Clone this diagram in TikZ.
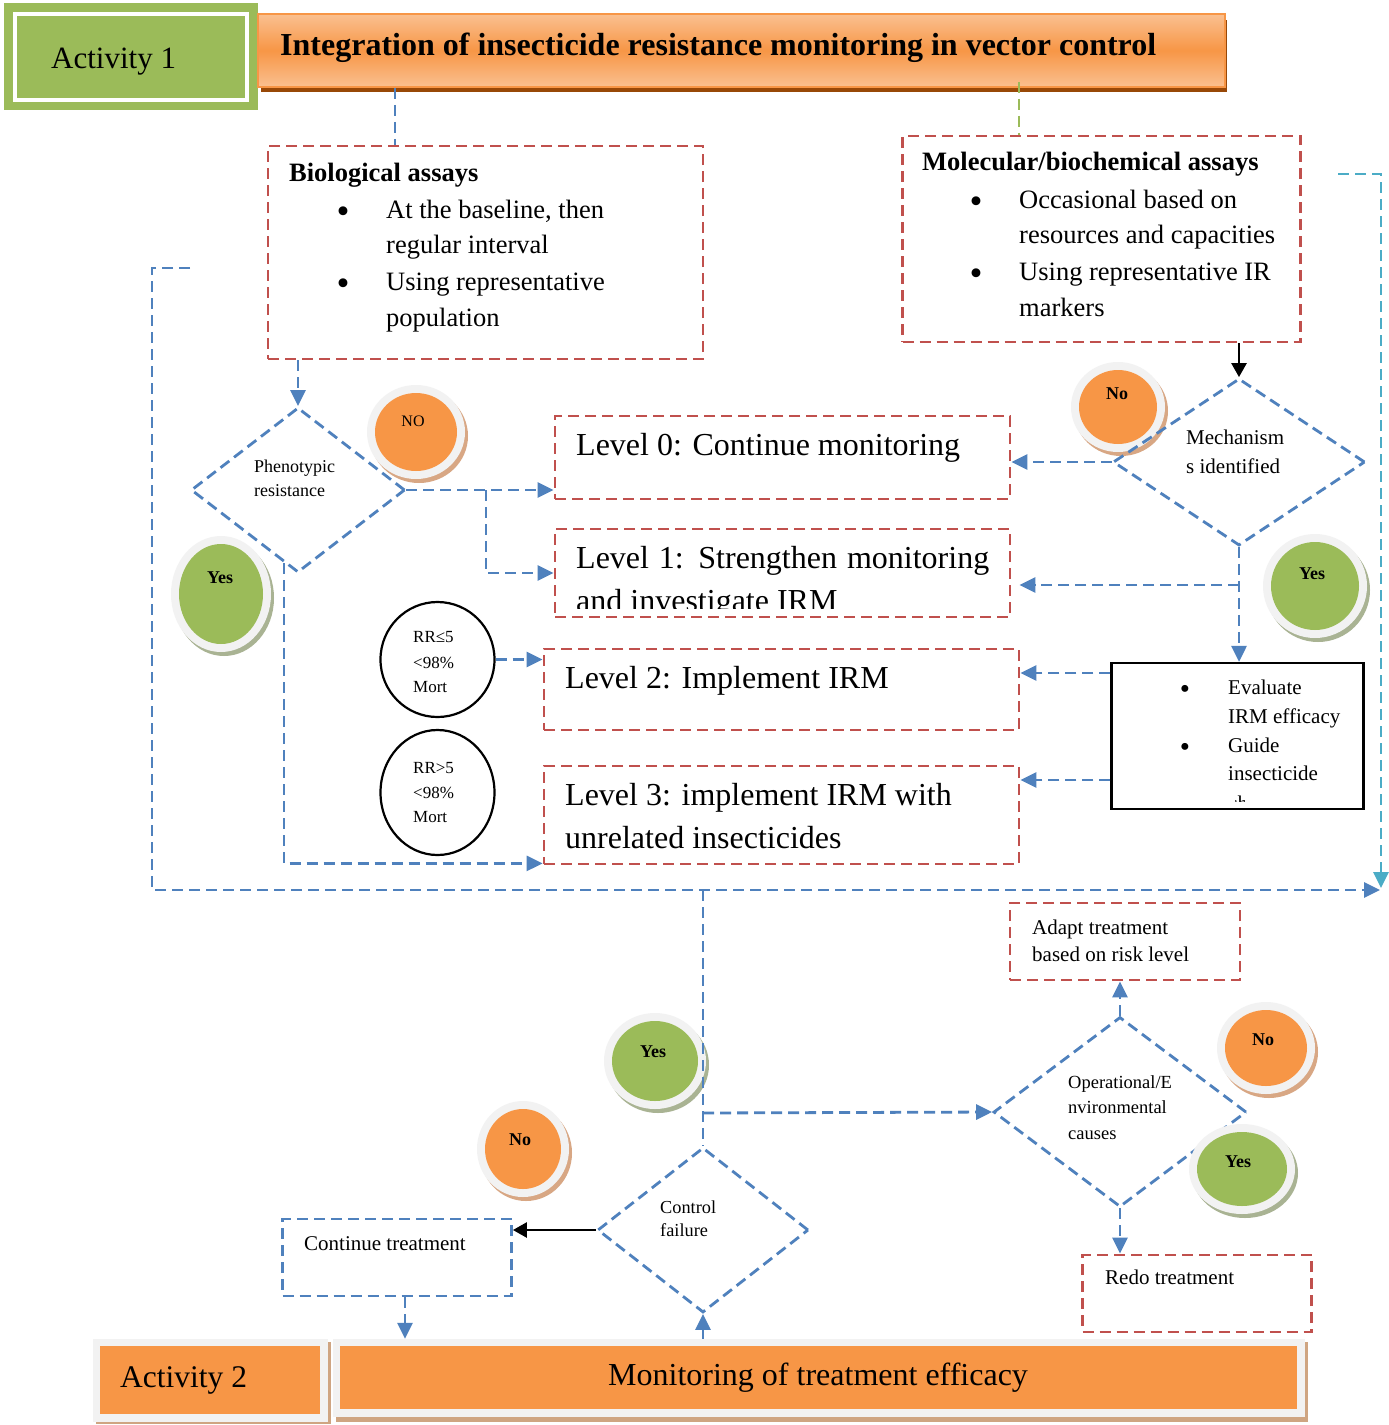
\documentclass[tikz,border=0pt]{standalone}
\usepackage{fontspec}
\setmainfont{Liberation Serif}
\usetikzlibrary{arrows.meta,shapes.geometric,calc}
\definecolor{redd}{HTML}{C0504D}
\definecolor{blu}{HTML}{4F81BD}
\definecolor{cya}{HTML}{4BACC6}
\definecolor{grn}{HTML}{9BBB59}
\definecolor{org}{HTML}{F79646}
\definecolor{orgl}{HTML}{FAC090}
\definecolor{ringc}{HTML}{F2F2F2}
\definecolor{oshad}{HTML}{D8A784}
\definecolor{gshad}{HTML}{A9B393}
\definecolor{tshad}{HTML}{984807}
\definecolor{bshad}{HTML}{CFA582}
\newcommand{\myfs}[1]{\fontsize{#1}{#1}\selectfont}
\newcommand{\mybubble}[7]{%
  \node[ellipse, fill=#7, inner sep=0, minimum width={2*(#4)+16}, minimum height={2*(#5)+16}] (#1-sh) at ({#2+3},{#3+4}) {};
  \node[ellipse, fill=ringc, inner sep=0, minimum width={2*(#4)+16}, minimum height={2*(#5)+16}] (#1-ring) at (#2,#3) {};
  \node[ellipse, fill=#6, inner sep=0, minimum width={2*(#4)}, minimum height={2*(#5)}] (#1) at (#2,#3) {};
}
\tikzset{
  dl/.style={line width=2.8pt, dash pattern=on 11pt off 6pt},
  bl/.style={dl, draw=blu},
  blA/.style={bl, -{Triangle[length=16pt,width=15pt]}},
  cyarrow/.style={dl, draw=cya, -{Triangle[length=16pt,width=15pt]}},
  grline/.style={dl, draw=grn, line width=2.2pt},
  kA/.style={draw=black, line width=2.6pt, -{Triangle[length=14pt,width=15pt]}},
  rbox/.style={dl, draw=redd, rectangle, inner sep=0},
  bbox/.style={dl, draw=blu, rectangle, inner sep=0},
  dia/.style={dl, draw=blu, diamond, inner sep=0},
  tx/.style={inner sep=0, anchor=base west},
  ft/.style={font=\myfs{#1}},
  ftb/.style={font=\myfs{#1}\bfseries},
  bul/.style={inner sep=0, anchor=base, font=\myfs{#1}},
  bt/.style={inner sep=0, anchor=base, font=\myfs{#1}\bfseries},
}
\begin{document}
\begin{tikzpicture}[x=1pt,y=-1pt]
\useasboundingbox[fill=white] (0,0) rectangle (1389,1425);

% ---------- header ----------
\node[rectangle, fill=grn, inner sep=0, minimum width=254, minimum height=107] (act1) at (131,56.5) {};
\node[rectangle, draw=white, line width=4pt, inner sep=0, minimum width=232, minimum height=86] (act1in) at (131,57) {};
\node[tx, ft=31] (act1t) at (51,68) {Activity 1};

\fill[tshad] (261,20) rectangle (1227,92);
\node[rectangle, draw=org, line width=1.5pt, top color=orgl, bottom color=orgl, middle color=org, inner sep=0, minimum width=967, minimum height=73] (title) at (741.5,50.5) {};
\node[tx, ftb=32] (titlet) at (280,55) {Integration of insecticide resistance monitoring in vector control};

% ---------- bubbles behind lines ----------
\mybubble{noP}{416}{432}{41}{39}{org}{oshad}
\mybubble{yesL}{221}{594}{42}{50}{grn}{gshad}
\mybubble{noM}{1118}{407}{39}{37}{org}{oshad}
\mybubble{yesM}{1315}{586}{44}{44}{grn}{gshad}
\mybubble{yesB}{655}{1061}{43}{40}{grn}{gshad}
\mybubble{noB}{523}{1149}{38}{40}{org}{oshad}
\mybubble{noR}{1266}{1048}{41}{38}{org}{oshad}

% ---------- boxes ----------
\node[rbox, minimum width=435, minimum height=213] (bio) at (485.5,252.5) {};
\node[rbox, minimum width=398, minimum height=206] (mol) at (1101.5,239) {};
\node[rbox, minimum width=455, minimum height=83] (L0) at (782.5,457.5) {};
\node[rbox, minimum width=455, minimum height=88] (L1) at (782.5,573) {};
\node[rbox, minimum width=475, minimum height=81] (L2) at (781.5,689.5) {};
\node[rbox, minimum width=475, minimum height=98] (L3) at (781.5,815) {};
\node[rbox, minimum width=230, minimum height=77] (adapt) at (1125,941.5) {};
\node[rbox, minimum width=229, minimum height=77] (redo) at (1197,1293.5) {};
\node[bbox, minimum width=229, minimum height=77] (cont) at (397,1257.5) {};
\node[rectangle, draw=black, line width=2.2pt, inner sep=0, minimum width=252, minimum height=146] (eval) at (1237.5,736) {};
\node[ellipse, draw=black, line width=2.2pt, inner sep=0, minimum width=114, minimum height=115] (rr1) at (437.5,659.5) {};
\node[ellipse, draw=black, line width=2.2pt, inner sep=0, minimum width=114, minimum height=125] (rr2) at (437.5,792.5) {};

% ---------- diamonds ----------
\node[dia, minimum width=214, minimum height=165] (pheno) at (298,490) {};
\node[dia, minimum width=252, minimum height=167] (mech) at (1239,462) {};
\node[dia, minimum width=253, minimum height=190] (op) at (1120,1112) {};
\node[dia, minimum width=211, minimum height=165] (ctrl) at (703,1230) {};

% ---------- bottom bars ----------
\fill[bshad] (96,1342) rectangle (331,1424);
\node[rectangle, fill=ringc, inner sep=0, minimum width=235, minimum height=83] (act2) at (210.5,1380) {};
\node[rectangle, fill=org, inner sep=0, minimum width=220, minimum height=68] (act2i) at (210,1380) {};
\node[tx, ft=31.5] (act2t) at (120,1387) {Activity 2};
\fill[bshad] (336,1342) rectangle (1308,1422);
\node[rectangle, fill=ringc, inner sep=0, minimum width=972, minimum height=78] (mon) at (819,1378) {};
\node[rectangle, fill=org, inner sep=0, minimum width=957, minimum height=63] (moni) at (818.5,1377.5) {};
\node[tx, ft=32] (mont) at (608,1385) {Monitoring of treatment efficacy};

% ---------- texts ----------
\node[tx, ftb=26.5] (bioT) at (289,181.5) {Biological assays};
\node[bul=37] (bioB1) at (343,223) {\textbullet};
\node[tx, ft=26.5] (bio1) at (386,218.5) {At the baseline, then};
\node[tx, ft=26.5] (bio2) at (386,253.5) {regular interval};
\node[bul=37] (bioB2) at (343,295) {\textbullet};
\node[tx, ft=26.5] (bio3) at (386,290.5) {Using representative};
\node[tx, ft=26.5] (bio4) at (386,326.5) {population};

\node[tx, ftb=26.5] (molT) at (922,170.5) {Molecular/biochemical assays};
\node[bul=37] (molB1) at (976,213) {\textbullet};
\node[tx, ft=26.5] (mol1) at (1019,208.5) {Occasional based on};
\node[tx, ft=26.5] (mol2) at (1019,243.5) {resources and capacities};
\node[bul=37] (molB2) at (976,285) {\textbullet};
\node[tx, ft=26.5] (mol3) at (1019,280.5) {Using representative IR};
\node[tx, ft=26.5] (mol4) at (1019,316.5) {markers};

\node[tx, ft=32] (L0t) at (576,455) {Level 0: Continue monitoring};
\node[tx, ft=32] (L1t) at (576,568) {\makebox[413pt][s]{Level 1: Strengthen monitoring}};
\begin{scope}
  \clip (L1.north west) rectangle ([yshift=10pt]L1.south east);
  \node[tx, ft=32] (L1t2) at (576,611) {and investigate IRM};
\end{scope}
\node[tx, ft=32] (L2t) at (565,688) {Level 2: Implement IRM};
\node[tx, ft=32] (L3t) at (565,805) {Level 3: implement IRM with};
\node[tx, ft=32] (L3t2) at (565,848) {unrelated insecticides};

\node[tx, ft=17] (rr1a) at (413,642) {RR≤5};
\node[tx, ft=17] (rr1b) at (413,668) {<98\%};
\node[tx, ft=17] (rr1c) at (413,692) {Mort};
\node[tx, ft=17] (rr2a) at (413,773) {RR>5};
\node[tx, ft=17] (rr2b) at (413,798) {<98\%};
\node[tx, ft=17] (rr2c) at (413,822) {Mort};

\node[tx, ft=18] (ph1) at (254,472) {Phenotypic};
\node[tx, ft=18] (ph2) at (254,496) {resistance};

\node[tx, ft=21] (me1) at (1186,444) {Mechanism};
\node[tx, ft=21] (me2) at (1186,473) {s identified};

\node[bul=29] (evB1) at (1185,698) {\textbullet};
\node[tx, ft=21] (ev1) at (1228,694) {Evaluate};
\node[tx, ft=21] (ev2) at (1228,723) {IRM efficacy};
\node[bul=29] (evB2) at (1185,756) {\textbullet};
\node[tx, ft=21] (ev3) at (1228,752) {Guide};
\node[tx, ft=21] (ev4) at (1228,780) {insecticide};
\begin{scope}
  \clip (1235,790) rectangle (1244,801);
  \node[tx, ft=21] (ev5) at (1228,810) {choice};
\end{scope}

\node[tx, ft=21] (ad1) at (1032,934) {Adapt treatment};
\node[tx, ft=21] (ad2) at (1032,961) {based on risk level};
\node[tx, ft=18.5] (op1) at (1068,1088) {Operational/E};
\node[tx, ft=18.5] (op2) at (1068,1113) {nvironmental};
\node[tx, ft=18.5] (op3) at (1068,1139) {causes};
\node[tx, ft=18.3] (ct1) at (660,1213) {Control};
\node[tx, ft=18.3] (ct2) at (660,1236) {failure};
\node[tx, ft=21] (cot) at (304,1250) {Continue treatment};
\node[tx, ft=21] (ret) at (1105,1284) {Redo treatment};

% ---------- helper coordinates ----------
\coordinate (x395) at (395,0);
\coordinate (x1019) at (1019,0);
\coordinate (x486) at (486,0);
\coordinate (x405) at (405,0);
\coordinate (y585) at (0,585);
\coordinate (y673) at (0,673);
\coordinate (y780) at (0,780);
\coordinate (y1113) at (0,1113);
\coordinate (lpA) at (190,268);
\coordinate (lpC) at (152,268);
\coordinate (lpB) at (1380,890);
\coordinate (cyS) at (1338,174);
\coordinate (cyE) at (1381,888);
\coordinate (py) at ($(pheno.west)!0.87!(pheno.south)$);

% ---------- connectors ----------
\draw[bl] (title.south -| x395) -- (bio.north -| x395);
\draw[grline] ([yshift=6pt]title.south -| x1019) -- (mol.north -| x1019);
\draw[kA] (mol.south -| mech.north) -- (mech.north);
\draw[blA] (bio.south -| pheno.north) -- (pheno.north);
\draw[blA] (pheno.east) -- (pheno.east -| L0.west);
\draw[blA] (pheno.east -| x486) -- (x486 |- L1.west) -- (L1.west);
\draw[blA] (py) |- ([yshift=2pt]L3.south west);
\draw[blA] (rr1.east) -- (rr1.east -| L2.west);
\draw[blA] (mech.west) -- (mech.west -| L0.east);
\draw[blA] (mech.south) -- (mech.south |- eval.north);
\draw[blA] (mech.south |- y585) -- ([xshift=8pt]L1.east |- y585);
\draw[blA] (eval.west |- y673) -- (L2.east |- y673);
\draw[blA] (eval.west |- y780) -- (L3.east |- y780);
\draw[blA] (lpA) -- (lpC) |- (lpB);
\draw[cyarrow] (cyS) -| (cyE);
\draw[bl] (ctrl.north |- lpB) -- (ctrl.north);
\draw[blA] (ctrl.north |- y1113) -- (op.west);
\draw[blA] (op.north) -- (op.north |- adapt.south);
\draw[blA] (op.south) -- (op.south |- redo.north);
\draw[kA] (ctrl.west) -- (ctrl.west -| cont.east);
\draw[blA] (cont.south -| x405) -- (x405 |- mon.north);
\draw[blA] (mon.north -| ctrl.south) -- (ctrl.south);

% ---------- bubble on top ----------
\mybubble{yesR}{1242}{1169}{45}{37}{grn}{gshad}

% ---------- bubble labels ----------
\node[bul=16] (noPt) at (413,426) {NO};
\node[bt=18] (yesLt) at (220,583) {Yes};
\node[bt=18] (noMt) at (1117,399) {No};
\node[bt=18] (yesMt) at (1312,579) {Yes};
\node[bt=18] (yesBt) at (653,1057) {Yes};
\node[bt=18] (noBt) at (520,1145) {No};
\node[bt=18] (noRt) at (1263,1045) {No};
\node[bt=18] (yesRt) at (1238,1167) {Yes};
\end{tikzpicture}
\end{document}
